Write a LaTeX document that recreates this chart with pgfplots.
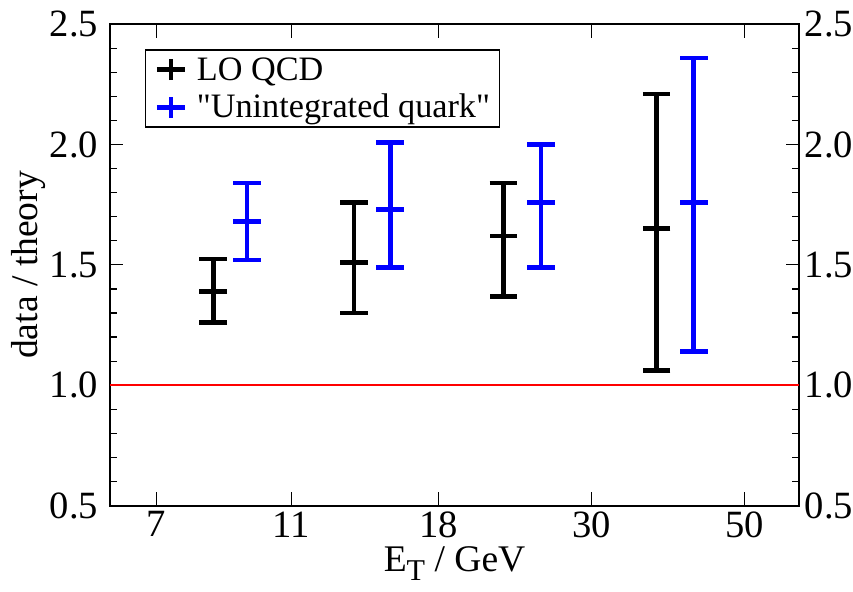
\documentclass[border=0pt]{standalone}
\usepackage{fontspec}
\setmainfont{Liberation Serif}[Ligatures=TeXOff]
\usepackage{pgfplots}
\usepackage{pgfplotstable}
\pgfplotsset{compat=1.18}

% ratio data/theory, asymmetric errors
\pgfplotstableread{
x     y     ep     em
8.47  1.39  0.135  0.13
13.56 1.51  0.25   0.21
22.34 1.62  0.22   0.25
37.27 1.65  0.56   0.59
}\lo
\pgfplotstableread{
x     y     ep     em
9.48  1.68  0.16   0.16
15.30 1.73  0.28   0.24
25.33 1.76  0.24   0.27
42.2  1.76  0.60   0.62
}\uq

\newcommand{\lstrut}{\rule[-2.25pt]{0pt}{10.15pt}\hspace*{2.8pt}}

\pgfplotsset{
  errbars/.style={only marks, mark=-, mark size=4.1pt, mark options={line width=1.4pt},
    error bars/y dir=both, error bars/y explicit,
    error bars/error bar style={line width=1.4pt},
    error bars/error mark options={rotate=90, mark size=4.1pt, line width=1.4pt}},
  plusimg/.style={legend image code/.code={
    \draw[#1, line width=1.4pt] (0pt,0pt) -- (8.4pt,0pt) (4.2pt,-3.1pt) -- (4.2pt,3.1pt);}},
}

\begin{document}
\begin{tikzpicture}
\begin{axis}[
  scale only axis, width=205.3pt, height=143.4pt,
  xmode=log, xmin=6, xmax=60, ymin=0.5, ymax=2.5,
  /pgf/number format/assume math mode=true,
  tick label style={font=\fontsize{11.5}{13}\selectfont},
  xticklabel style={yshift=1.7pt},
  axis line style={line width=0.6pt},
  xtick={7,11,18,30,50}, xticklabels={7,11,18,30,50}, xminorticks=false,
  ytick={0.5,1,1.5,2,2.5}, minor y tick num=4,
  yticklabel style={/pgf/number format/.cd, fixed, fixed zerofill, precision=1},
  tick align=inside, major tick length=4pt, minor tick length=2pt,
  tick style={black, line width=0.35pt},
  xlabel={E\raisebox{-0.55ex}{\small T} / GeV},
  ylabel={data / theory},
  label style={font=\fontsize{11.2}{13}\selectfont},
  xlabel style={yshift=4.3pt},
  ylabel style={yshift=-5.5pt},
  legend style={at={(0.05,0.948)}, anchor=north west, draw=black, line width=0.4pt,
    font=\fontsize{10.2}{12}\selectfont, inner xsep=2.8pt, inner ysep=1.2pt,
    row sep=1.75pt, nodes={inner sep=0pt}},
  legend cell align={left},
]
\addplot[draw=red, line width=0.5pt, mark=none, forget plot] coordinates {(6,1) (60,1)};
\addplot[black, plusimg=black, errbars]
  table[x=x, y=y, y error plus=ep, y error minus=em] {\lo};
\addlegendentry{\lstrut LO QCD}
\addplot[blue, plusimg=blue, errbars]
  table[x=x, y=y, y error plus=ep, y error minus=em] {\uq};
\addlegendentry{\lstrut "Unintegrated quark"}
\end{axis}
\begin{axis}[
  scale only axis, width=205.3pt, height=143.4pt,
  xmin=6, xmax=60, ymin=0.5, ymax=2.5,
  /pgf/number format/assume math mode=true,
  tick label style={font=\fontsize{11.5}{13}\selectfont},
  xtick=\empty, axis line style={draw=none},
  ytick={0.5,1,1.5,2,2.5}, ytick style={draw=none},
  yticklabel pos=right,
  yticklabel style={inner xsep=0pt, xshift=1.5pt, /pgf/number format/.cd, fixed, fixed zerofill, precision=1},
]
\end{axis}
\end{tikzpicture}
\end{document}
